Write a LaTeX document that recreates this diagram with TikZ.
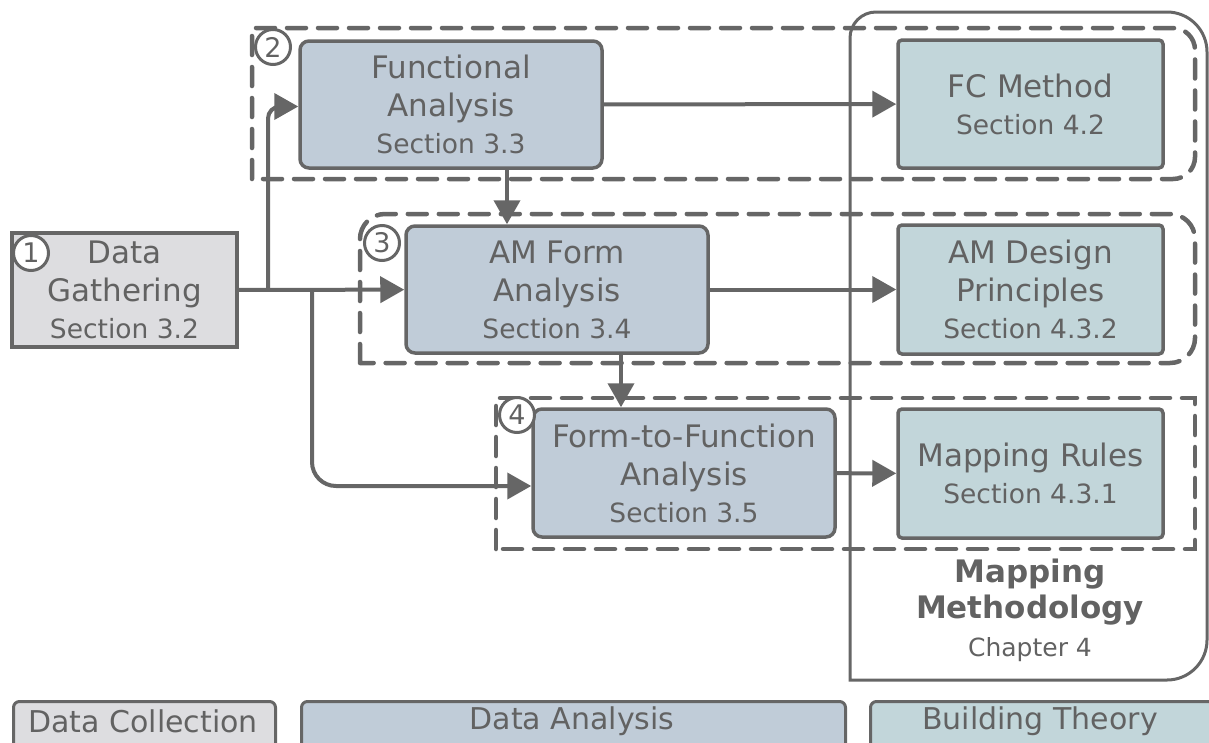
\documentclass[tikz,border=0pt]{standalone}
\usepackage{fontspec}
\setmainfont{DejaVu Sans}
\usetikzlibrary{arrows.meta,calc}
\definecolor{ln}{RGB}{102,102,102}
\definecolor{txt}{RGB}{98,98,98}
\definecolor{grayf}{RGB}{221,221,224}
\definecolor{bluef}{RGB}{192,204,216}
\definecolor{tealf}{RGB}{194,214,218}
\newcommand\secf{\fontsize{26.5}{30}\selectfont}
\begin{document}
\begin{tikzpicture}[x=1pt,y=-1pt,
  box/.style={draw=ln, line width=3.5pt, text=txt, align=center, inner sep=0pt, font=\fontsize{31}{38}\selectfont},
  gbox/.style={box, fill=grayf},
  bbox/.style={box, fill=bluef, rounded corners=9pt},
  tbox/.style={box, fill=tealf, rounded corners=4pt},
  region/.style={draw=ln, line width=4.5pt, dash pattern=on 19pt off 12pt, line cap=round},
  arr/.style={draw=ln, line width=4pt, -{Triangle[length=24pt,width=26pt]}},
  num/.style={circle, draw=ln, fill=white, line width=3pt, minimum size=35pt, inner sep=0pt, text=txt, font=\fontsize{27}{27}\selectfont},
  legbox/.style={draw=ln, line width=3pt, rounded corners=6pt, anchor=north west, minimum height=70pt, inner sep=0pt},
  legtext/.style={text=txt, font=\fontsize{30}{30}\selectfont, inner sep=0pt},
]
\useasboundingbox (0,0) rectangle (1209,742);
\clip (0,0) rectangle (1209,742);

% dashed regions
\draw[region] (252,179) -- (252,28) [rounded corners=22pt] -- (1195,28) -- (1195,179) [sharp corners] -- cycle;
\draw[region] (360,363) [rounded corners=25pt] -- (360,214) -- (1195,214) -- (1195,363) [sharp corners] -- cycle;
\draw[region] (496,549) -- (496,398) -- (1195,398) -- (1195,549) -- cycle;

% boxes
\node[gbox, minimum width=225pt, minimum height=114pt] (dg) at (124.5,290) {Data\\Gathering\\[-1pt]{\secf Section 3.2}};
\node[bbox, minimum width=302pt, minimum height=127pt] (fa) at (451,104.5) {Functional\\Analysis\\[-1pt]{\secf Section 3.3}};
\node[tbox, minimum width=265pt, minimum height=128pt] (fc) at (1030.5,104) {FC Method\\[-1pt]{\secf Section 4.2}};
\node[bbox, minimum width=302pt, minimum height=127pt] (amf) at (557,289.5) {AM Form\\Analysis\\[-1pt]{\secf Section 3.4}};
\node[tbox, minimum width=265pt, minimum height=129pt] (amd) at (1030.5,289.5) {AM Design\\Principles\\[-1pt]{\secf Section 4.3.2}};
\node[bbox, minimum width=302pt, minimum height=128pt] (ftf) at (684,473) {Form-to-Function\\Analysis\\[-1pt]{\secf Section 3.5}};
\node[tbox, minimum width=265pt, minimum height=129pt] (mr) at (1030.5,473.5) {Mapping Rules\\[-1pt]{\secf Section 4.3.1}};

% junctions
\coordinate (j1) at (268,290);
\coordinate (j2) at (312,290);

% arrows
\draw[arr] (dg) -- (amf);
\draw[arr, rounded corners=12pt] (j1) |- ($(fa.west)+(0,2)$);
\draw[arr, rounded corners=24pt] (j2) |- ($(ftf.west)+(0,13)$);
\draw[arr] (fa.south -| 507,0) -- (amf.north -| 507,0);
\draw[arr] (amf.south -| 621,0) -- (ftf.north -| 621,0);
\draw[arr] (fa) -- (fc);
\draw[arr] (amf) -- (amd);
\draw[arr] (ftf) -- (mr);

% big chapter box
\draw[draw=ln, line width=3pt] (850,680) [rounded corners=26pt] -- (850,12) [rounded corners=40pt] -- (1207,12) -- (1207,680) [sharp corners] -- cycle;
\node[text=txt, align=center, font=\bfseries\fontsize{31}{36}\selectfont, inner sep=0pt] (mm) at (1030,592) {Mapping\\Methodology};
\node[text=txt, font=\fontsize{25}{30}\selectfont, inner sep=0pt] (ch4) at (1030,650) {Chapter 4};

% numbered circles
\node[num] (n1) at (31,253) {1};
\node[num] (n2) at (273,47) {2};
\node[num] (n3) at (382,243) {3};
\node[num] (n4) at (517,415) {4};

% legend
\node[legbox, fill=grayf, minimum width=262pt] (lc) at (12,700) {};
\node[legbox, fill=bluef, minimum width=544pt] (la) at (300,700) {};
\node[legbox, fill=tealf, minimum width=350pt] (lt) at (869,700) {};
\node[legtext] (lct) at (143,721) {Data Collection};
\node[legtext] (lat) at (572,721) {Data Analysis};
\node[legtext] (ltt) at (1040,721) {Building Theory};
\end{tikzpicture}
\end{document}
